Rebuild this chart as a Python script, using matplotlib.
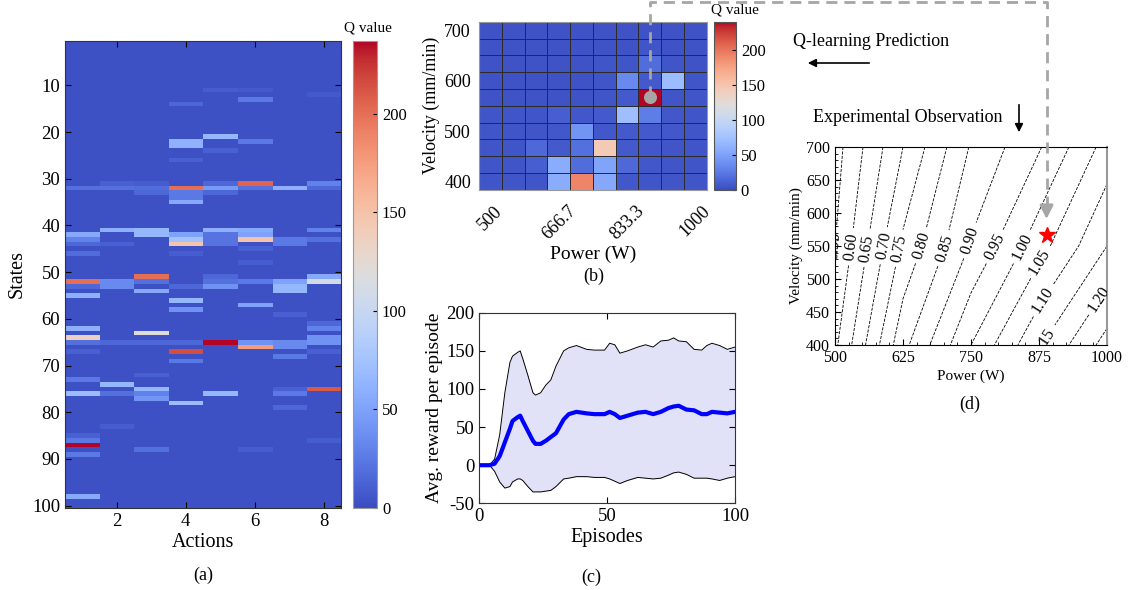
import numpy as np
import matplotlib.pyplot as plt
from matplotlib.lines import Line2D
from matplotlib.patches import FancyArrowPatch
from matplotlib.ticker import MultipleLocator

plt.rcParams['font.family'] = ['Liberation Serif', 'DejaVu Serif']
plt.rcParams['axes.unicode_minus'] = False

# ---- (a) Q table: states x actions (only cells that differ from background)
q_background = 3
a_states = [32, 42, 43, 44, 46, 52, 53, 55, 62, 64, 65, 67, 73, 76, 85, 86, 87, 89, 98,
            31, 32, 41, 44, 52, 53, 65, 74, 76, 83,
            31, 32, 33, 41, 42, 51, 52, 54, 63, 65, 72, 75, 76, 77, 88,
            14, 22, 23, 26, 32, 33, 34, 35, 42, 43, 44, 46, 53, 56, 58, 65, 67, 69, 78,
            11, 21, 24, 31, 32, 33, 41, 42, 43, 44, 51, 52, 53, 65, 76,
            11, 13, 22, 31, 32, 41, 42, 43, 45, 48, 52, 57, 65, 66, 88,
            32, 43, 44, 52, 53, 54, 59, 65, 66, 68, 75, 76, 79,
            12, 31, 32, 41, 43, 51, 52, 61, 62, 64, 65, 67, 75, 86]
a_actions = [1] * 19 + [2] * 10 + [3] * 15 + [4] * 19 + [5] * 15 + [6] * 15 + [7] * 13 + [8] * 14
a_values = [20, 55, 30, 15, 18, 200, 15, 60, 60, 135, 20, 12, 25, 70, 12, 25, 237, 25, 55,
            12, 20, 60, 12, 35, 35, 15, 65, 20, 10,
            10, 18, 15, 65, 65, 200, 20, 55, 118, 15, 12, 65, 30, 42, 20,
            15, 62, 62, 12, 200, 25, 25, 55, 50, 75, 148, 10, 15, 65, 40, 15, 215, 25, 70,
            10, 65, 12, 15, 45, 15, 60, 22, 22, 22, 15, 20, 40, 237, 65,
            8, 25, 25, 205, 20, 55, 50, 150, 12, 10, 25, 50, 40, 175, 10,
            60, 25, 25, 50, 65, 65, 12, 35, 35, 25, 12, 25, 15,
            8, 30, 15, 30, 20, 55, 110, 15, 30, 40, 40, 12, 210, 10]

# ---- (b) Q values over power x velocity grid
power_levels = [500, 555.6, 611.1, 666.7, 722.2, 777.8, 833.3, 888.9, 944.4, 1000]
velocity_levels = [700, 666.7, 633.3, 600, 566.7, 533.3, 500, 466.7, 433.3, 400]
power_ticks = ['500', '666.7', '833.3', '1000']
velocity_ticks = ['700', '600', '500', '400']
q_grid = [[4, 4, 4, 4, 4, 4, 4, 4, 4, 4],
          [4, 4, 4, 4, 4, 4, 4, 5, 4, 4],
          [4, 4, 4, 4, 4, 5, 5, 18, 5, 4],
          [4, 4, 4, 4, 4, 5, 35, 8, 70, 5],
          [4, 4, 4, 4, 4, 5, 8, 240, 5, 5],
          [5, 5, 5, 10, 6, 8, 72, 28, 6, 5],
          [5, 5, 5, 6, 42, 6, 8, 8, 6, 5],
          [5, 5, 15, 8, 20, 145, 8, 6, 5, 5],
          [5, 5, 10, 58, 18, 52, 15, 6, 5, 5],
          [5, 5, 5, 58, 192, 55, 6, 5, 5, 5]]
best_col, best_row = 7, 4

# ---- (c) reward curve
episodes = [1, 4, 6, 8, 10, 12, 13, 15, 16, 17, 19, 21, 22, 24, 26, 28, 30, 33, 35, 38, 42,
            45, 49, 51, 53, 55, 58, 62, 65, 68, 71, 74, 76, 78, 81, 84, 87, 89, 91, 94, 97, 100]
reward_mean = [0, 0, 2, 12, 30, 48, 58, 63, 65, 58, 45, 32, 28, 28, 32, 37, 42, 60, 67, 70, 68,
               67, 67, 70, 67, 62, 65, 69, 70, 67, 70, 75, 77, 78, 73, 72, 67, 67, 70, 69, 68, 70]
reward_upper = [0, 0, 8, 40, 95, 135, 143, 148, 150, 140, 118, 95, 92, 95, 105, 112, 130, 150,
                154, 157, 152, 151, 151, 160, 158, 147, 150, 155, 158, 155, 163, 164, 167, 163,
                162, 152, 151, 157, 160, 157, 152, 155]
reward_lower = [0, 0, -8, -22, -30, -28, -22, -18, -18, -20, -28, -35, -35, -35, -34, -33, -28,
                -18, -17, -15, -15, -16, -16, -18, -21, -24, -20, -16, -17, -18, -17, -13, -10,
                -9, -12, -17, -17, -17, -18, -20, -17, -15]

# ---- (d) process map (value read at grid nodes)
map_power = [500, 625, 750, 875, 1000]
map_velocity = [400, 550, 700]
map_value = [[0.59, 0.835, 1.00, 1.145, 1.27],
             [0.55, 0.76, 0.905, 1.03, 1.15],
             [0.53, 0.70, 0.855, 0.945, 1.07]]
map_levels = [0.55, 0.60, 0.65, 0.70, 0.75, 0.80, 0.85, 0.90, 0.95, 1.00,
              1.05, 1.10, 1.15, 1.20, 1.25]
label_spots = [(503, 548), (528, 549), (555, 547), (586, 551), (616, 547), (659, 551),
               (699, 547), (745, 559), (794, 549), (844, 549), (877, 526), (873, 473),
               (882, 408), (985, 470)]

cmap = 'coolwarm'
gray = '#a6a6a6'

fig = plt.figure(figsize=(11.29, 5.90), dpi=100)

# (a)
ax_a = fig.add_axes([0.0576, 0.139, 0.2445, 0.7915])
Q = np.full((100, 8), float(q_background))
for s, a, v in zip(a_states, a_actions, a_values):
    Q[s - 1, a - 1] = v
im_a = ax_a.imshow(Q, cmap=cmap, vmin=0, vmax=237, aspect='auto',
                   extent=(0.5, 8.5, 100.5, 0.5), interpolation='nearest')
ax_a.set_xticks([2, 4, 6, 8])
ax_a.set_yticks(range(10, 101, 10))
ax_a.tick_params(direction='in', top=True, right=True, labelsize=13.5, length=4)
ax_a.set_xlabel('Actions', fontsize=14.5, labelpad=2)
ax_a.set_ylabel('States', fontsize=14.5, labelpad=4)
for sp in ax_a.spines.values():
    sp.set_color('#333333')
cax_a = fig.add_axes([0.3127, 0.139, 0.0213, 0.7915])
cb_a = fig.colorbar(im_a, cax=cax_a, ticks=[0, 50, 100, 150, 200])
cb_a.ax.tick_params(direction='in', labelsize=12, length=3)
cb_a.outline.set_edgecolor('#999999')
fig.text(368 / 1129, 1 - 28 / 590, 'Q value', ha='center', va='center', fontsize=11)
fig.text(0.18, 0.025, '(a)', ha='center', va='center', fontsize=13)

# (b)
ax_b = fig.add_axes([0.4245, 0.678, 0.2014, 0.2852])
edges = np.arange(len(power_levels) + 1) - 0.5
pm = ax_b.pcolormesh(edges, edges, np.array(q_grid), cmap=cmap, vmin=0, vmax=240,
                     edgecolors='#2b2b2b', linewidth=0.5)
ax_b.set_xlim(-0.5, 9.5)
ax_b.set_ylim(9.5, -0.5)
ax_b.set_xticks([0, 3, 6, 9])
ax_b.set_xticklabels(power_ticks, rotation=45, ha='center')
ax_b.set_yticks([0, 3, 6, 9])
ax_b.set_yticklabels(velocity_ticks)
ax_b.tick_params(length=0, labelsize=13, pad=6)
ax_b.tick_params(axis='x', pad=9)
ax_b.set_xlabel('Power (W)', fontsize=14, labelpad=2)
ax_b.set_ylabel('Velocity (mm/min)', fontsize=13, labelpad=3)
for sp in ax_b.spines.values():
    sp.set_color('#999999')
ax_b.scatter([best_col], [best_row], s=70, color=gray, zorder=5)
cax_b = fig.add_axes([0.6324, 0.678, 0.0195, 0.2852])
cb_b = fig.colorbar(pm, cax=cax_b, ticks=[0, 50, 100, 150, 200])
cb_b.ax.tick_params(direction='in', labelsize=12, length=3)
cb_b.outline.set_edgecolor('#555555')
fig.text(735 / 1129, 1 - 10 / 590, 'Q value', ha='center', va='center', fontsize=11)
fig.text(0.526, 0.532, '(b)', ha='center', va='center', fontsize=13)

# (c)
ax_c = fig.add_axes([0.4245, 0.1469, 0.2265, 0.323])
ax_c.fill_between(episodes, reward_lower, reward_upper, color='#e1e1f8', lw=0)
ax_c.plot(episodes, reward_upper, color='k', lw=0.7)
ax_c.plot(episodes, reward_lower, color='k', lw=0.7)
ax_c.plot(episodes, reward_mean, color='#0000ff', lw=3)
ax_c.set_xlim(0, 100)
ax_c.set_ylim(-50, 200)
ax_c.set_xticks([0, 50, 100])
ax_c.set_yticks([-50, 0, 50, 100, 150, 200])
ax_c.tick_params(direction='in', top=True, right=True, labelsize=13.5, length=4)
ax_c.set_xlabel('Episodes', fontsize=14.5, labelpad=2)
ax_c.set_ylabel('Avg. reward per episode', fontsize=14, labelpad=2)
for sp in ax_c.spines.values():
    sp.set_color('#333333')
fig.text(0.524, 0.022, '(c)', ha='center', va='center', fontsize=13)

# (d)
ax_d = fig.add_axes([0.7396, 0.4153, 0.2409, 0.3355])
cs = ax_d.contour(map_power, map_velocity, np.array(map_value), levels=map_levels,
                  colors='k', linestyles='--', linewidths=0.6)
labels = ax_d.clabel(cs, fmt='%.2f', fontsize=11.5, inline=True, manual=label_spots)
for t in labels:
    t.set_clip_on(True)
ax_d.set_xlim(500, 1000)
ax_d.set_ylim(400, 700)
ax_d.set_xticks([500, 625, 750, 875, 1000])
ax_d.set_yticks(range(400, 701, 50))
ax_d.xaxis.set_minor_locator(MultipleLocator(25))
ax_d.yaxis.set_minor_locator(MultipleLocator(10))
ax_d.tick_params(which='both', direction='in', labelsize=11.5)
ax_d.tick_params(which='major', length=4)
ax_d.tick_params(which='minor', length=2)
ax_d.spines['right'].set_color('#999999')
ax_d.spines['right'].set_linewidth(1.5)
ax_d.set_xlabel('Power (W)', fontsize=11, labelpad=3)
ax_d.set_ylabel('Velocity (mm/min)', fontsize=11, labelpad=2)
p_opt = power_levels[best_col]
v_opt = velocity_levels[best_row]
ax_d.plot([p_opt], [v_opt], marker='*', color='red', ms=12, clip_on=False, zorder=6)
ax_d.annotate('', xy=(p_opt, v_opt + 20), xytext=(p_opt, v_opt + 40),
              arrowprops=dict(arrowstyle='-|>', color=gray, lw=2, mutation_scale=20),
              annotation_clip=False, zorder=6)
fig.text(0.859, 0.314, '(d)', ha='center', va='center', fontsize=13)

# connection: Q-learning optimum -> experimental map
to_fig = fig.transFigure.inverted()
pb = to_fig.transform(ax_b.transData.transform((best_col, best_row)))
pd_ = to_fig.transform(ax_d.transData.transform((p_opt, v_opt + 33)))
fig.add_artist(Line2D([pb[0], pb[0], pd_[0], pd_[0]], [pb[1], 0.997, 0.997, pd_[1]],
                      transform=fig.transFigure, color=gray, lw=2, ls=(0, (4, 2.5)), zorder=4))

fig.text(871 / 1129, 1 - 42 / 590, 'Q-learning Prediction', ha='center', va='center', fontsize=13)
fig.add_artist(FancyArrowPatch((872 / 1129, 1 - 63 / 590), (805 / 1129, 1 - 63 / 590),
                               transform=fig.transFigure, arrowstyle='-|>', mutation_scale=12,
                               color='k', lw=1.2))
fig.text(908 / 1129, 1 - 118 / 590, 'Experimental Observation', ha='center', va='center', fontsize=13)
fig.add_artist(FancyArrowPatch((1019 / 1129, 1 - 102 / 590), (1019 / 1129, 1 - 135 / 590),
                               transform=fig.transFigure, arrowstyle='-|>', mutation_scale=12,
                               color='k', lw=1.2))

fig.savefig('out.png', dpi=100)
